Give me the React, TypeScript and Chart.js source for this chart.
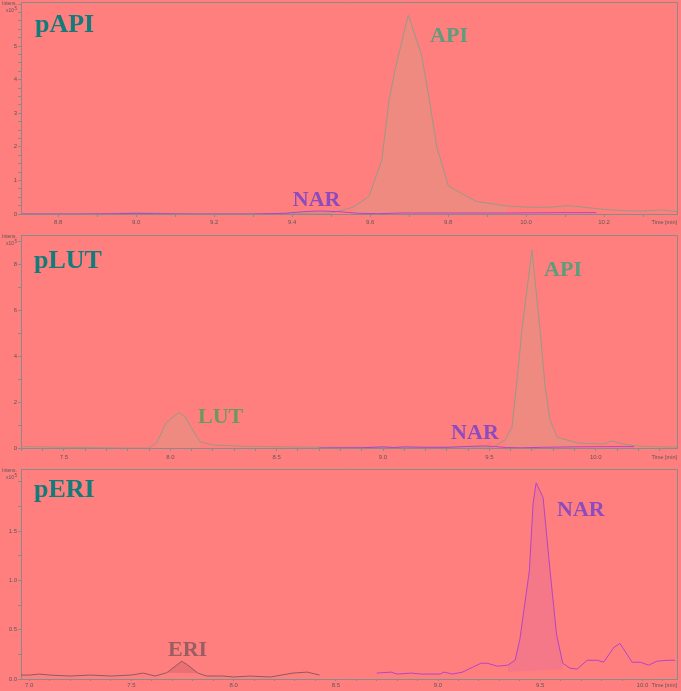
import React, { useEffect, useRef } from "react";
import { Chart, registerables } from "chart.js";

Chart.register(...registerables);

const BG = "#FF7F7F";
const AXIS = "#8A8A8A";
const TICK = "#5E5656";

// ---------- Panel 1 : pAPI ----------
const p1ApiTime = [8.705, 8.8, 8.9, 9.0, 9.05, 9.1, 9.2, 9.3, 9.4, 9.497, 9.556, 9.597, 9.63, 9.649, 9.664, 9.698, 9.732, 9.752, 9.771, 9.801, 9.873, 9.951, 10.01, 10.06, 10.108, 10.15, 10.197, 10.25, 10.3, 10.352, 10.387];
const p1ApiInt = [0.01, 0.01, 0.01, 0.03, 0.03, 0.01, 0.01, 0.01, 0.02, 0.02, 0.2, 0.52, 1.6, 3.4, 4.29, 5.92, 4.73, 3.39, 2.0, 0.83, 0.37, 0.24, 0.2, 0.2, 0.25, 0.2, 0.14, 0.1, 0.09, 0.12, 0.07];
const p1NarTime = [8.705, 8.85, 8.95, 9.0, 9.05, 9.15, 9.3, 9.38, 9.43, 9.47, 9.52, 9.57, 9.62, 9.68, 9.8, 9.95, 10.1, 10.18];
const p1NarInt = [0.0, 0.0, 0.01, 0.02, 0.01, 0.0, 0.0, 0.02, 0.07, 0.09, 0.07, 0.02, 0.01, 0.03, 0.03, 0.03, 0.04, 0.04];
const p1ApiPeak = [9.556, 9.951];

// ---------- Panel 2 : pLUT ----------
const p2LutApiTime = [7.298, 7.4, 7.5, 7.6, 7.7, 7.8, 7.9, 7.937, 7.98, 8.04, 8.07, 8.1, 8.14, 8.2, 8.33, 8.45, 8.6, 8.8, 9.0, 9.2, 9.4, 9.517, 9.574, 9.606, 9.63, 9.653, 9.7, 9.743, 9.762, 9.785, 9.818, 9.912, 10.034, 10.077, 10.128, 10.194, 10.3, 10.382];
const p2LutApiInt = [0.06, 0.05, 0.03, 0.02, 0.01, 0.0, 0.0, 0.25, 1.1, 1.55, 1.35, 0.87, 0.27, 0.13, 0.08, 0.06, 0.04, 0.03, 0.03, 0.03, 0.04, 0.04, 0.35, 0.9, 2.96, 5.15, 8.65, 4.7, 2.66, 1.22, 0.48, 0.22, 0.17, 0.31, 0.17, 0.09, 0.05, 0.04];
const p2NarTime = [8.7, 8.8, 8.9, 9.0, 9.05, 9.1, 9.2, 9.3, 9.4, 9.48, 9.53, 9.58, 9.65, 9.75, 9.9, 10.05, 10.18];
const p2NarInt = [0.0, 0.01, 0.01, 0.05, 0.02, 0.05, 0.03, 0.03, 0.07, 0.09, 0.06, 0.02, 0.01, 0.03, 0.05, 0.06, 0.06];
const p2LutPeak = [7.937, 8.14];
const p2ApiPeak = [9.574, 9.912];

// ---------- Panel 3 : pERI ----------
const p3EriTime = [6.96, 7.0, 7.05, 7.1, 7.2, 7.3, 7.4, 7.5, 7.558, 7.616, 7.673, 7.746, 7.77, 7.827, 7.868, 7.95, 8.0, 8.08, 8.18, 8.29, 8.36, 8.42];
const p3EriInt = [0.04, 0.04, 0.05, 0.04, 0.03, 0.04, 0.03, 0.04, 0.06, 0.03, 0.064, 0.18, 0.15, 0.058, 0.03, 0.03, 0.02, 0.03, 0.02, 0.06, 0.07, 0.04];
const p3NarTime = [8.7, 8.77, 8.8, 8.87, 8.92, 9.01, 9.03, 9.07, 9.12, 9.21, 9.24, 9.29, 9.34, 9.377, 9.4, 9.447, 9.465, 9.48, 9.514, 9.548, 9.58, 9.61, 9.645, 9.68, 9.73, 9.78, 9.81, 9.86, 9.89, 9.95, 9.99, 10.03, 10.07, 10.12, 10.16];
const p3NarInt = [0.06, 0.07, 0.05, 0.06, 0.05, 0.05, 0.07, 0.05, 0.07, 0.16, 0.16, 0.13, 0.14, 0.19, 0.4, 1.1, 1.78, 1.99, 1.84, 1.1, 0.45, 0.16, 0.11, 0.1, 0.19, 0.19, 0.17, 0.32, 0.36, 0.17, 0.17, 0.14, 0.18, 0.19, 0.19];
const p3NarBaseTime = [9.32, 9.61];
const p3NarBaseInt = [0.07, 0.1];
const p3EriBaseTime = [7.673, 7.827];
const p3EriBaseInt = [0.064, 0.058];

type Pt = { x: number; y: number };
const zip = (t: number[], v: number[]): Pt[] => t.map((x, i) => ({ x, y: v[i] }));
const between = (p: Pt[], r: number[]) => p.filter((q) => q.x >= r[0] - 1e-9 && q.x <= r[1] + 1e-9);

const lineDs = (pts: Pt[], color: string, order: number) => ({
  data: pts, borderColor: color, borderWidth: 1, pointRadius: 0, tension: 0, fill: false, order,
});
const areaDs = (pts: Pt[], color: string, fill: any, order: number) => ({
  data: pts, borderColor: "rgba(0,0,0,0)", borderWidth: 0, backgroundColor: color, pointRadius: 0, tension: 0, fill, order,
});
const hiddenDs = (pts: Pt[]) => ({
  data: pts, borderColor: "rgba(0,0,0,0)", borderWidth: 0, pointRadius: 0, tension: 0, fill: false, order: 9,
});

const API_LINE = "#979A86";
const API_FILL = "#EE8A80";
const NAR_LINE = "#B444C8";
const NAR_FILL = "#F47888";
const ERI_LINE = "#8E5A5E";
const ERI_FILL = "#EA7076";

interface Label { text: string; x: number; y: number; color: string; size: number }
interface Spec {
  top: number; height: number; padTop: number; xHeight: number; tickLen: number; tickPad: number;
  xMin: number; xMax: number; xMinor: number; xMajor: number;
  yMin: number; yMax: number; yMinor: number; yMajor: number; yDec: number; yHideAbove: number;
  datasets: any[]; title: string; titleDx: number; titleDy: number; labels: Label[];
}

const p1Api = zip(p1ApiTime, p1ApiInt);
const p2Trace = zip(p2LutApiTime, p2LutApiInt);
const p3Eri = zip(p3EriTime, p3EriInt);
const p3Nar = zip(p3NarTime, p3NarInt);

const specs: Spec[] = [
  {
    top: 0, height: 228, padTop: 2, xHeight: 14, tickLen: 3, tickPad: 2,
    xMin: 8.705, xMax: 10.387, xMinor: 0.1, xMajor: 0.2,
    yMin: 0, yMax: 6.31, yMinor: 0.25, yMajor: 1, yDec: 0, yHideAbove: 5.5,
    datasets: [
      areaDs(between(p1Api, p1ApiPeak), API_FILL, "origin", 5),
      lineDs(p1Api, API_LINE, 2),
      lineDs(zip(p1NarTime, p1NarInt), NAR_LINE, 1),
    ],
    title: "pAPI", titleDx: 14, titleDy: 30,
    labels: [
      { text: "API", x: 9.754, y: 5.12, color: "#5E9C7E", size: 22 },
      { text: "NAR", x: 9.402, y: 0.24, color: "#8C4CC0", size: 22 },
    ],
  },
  {
    top: 228, height: 234, padTop: 7, xHeight: 14, tickLen: 3, tickPad: 3,
    xMin: 7.298, xMax: 10.382, xMinor: 0.1, xMajor: 0.5,
    yMin: 0, yMax: 9.3, yMinor: 1, yMajor: 2, yDec: 0, yHideAbove: 9,
    datasets: [
      areaDs(between(p2Trace, p2LutPeak), API_FILL, "origin", 5),
      areaDs(between(p2Trace, p2ApiPeak), API_FILL, "origin", 5),
      lineDs(p2Trace, API_LINE, 2),
      lineDs(zip(p2NarTime, p2NarInt), NAR_LINE, 1),
    ],
    title: "pLUT", titleDx: 13, titleDy: 33,
    labels: [
      { text: "API", x: 9.757, y: 7.51, color: "#5E9C7E", size: 22 },
      { text: "LUT", x: 8.13, y: 1.09, color: "#6C9A5E", size: 22 },
      { text: "NAR", x: 9.32, y: 0.39, color: "#8C4CC0", size: 22 },
    ],
  },
  {
    top: 462, height: 229, padTop: 7, xHeight: 12, tickLen: 2, tickPad: 1,
    xMin: 6.96, xMax: 10.169, xMinor: 0.1, xMajor: 0.5,
    yMin: 0, yMax: 2.13, yMinor: 0.25, yMajor: 0.5, yDec: 1, yHideAbove: 1.9,
    datasets: [
      hiddenDs(zip(p3NarBaseTime, p3NarBaseInt)),
      areaDs(between(p3Nar, [9.34, 9.61]), NAR_FILL, 0, 5),
      hiddenDs(zip(p3EriBaseTime, p3EriBaseInt)),
      areaDs(between(p3Eri, [7.673, 7.827]), ERI_FILL, 2, 5),
      lineDs(p3Eri, ERI_LINE, 2),
      lineDs(p3Nar, NAR_LINE, 1),
    ],
    title: "pERI", titleDx: 13, titleDy: 28,
    labels: [
      { text: "ERI", x: 7.679, y: 0.233, color: "#9A5E62", size: 22 },
      { text: "NAR", x: 9.582, y: 1.653, color: "#8C4CC0", size: 22 },
    ],
  },
];

const SMALL = '"Liberation Sans", Arial, sans-serif';
const SERIF = '"Liberation Serif", "Times New Roman", serif';

const isMajor = (v: number, major: number) => {
  const r = v / major;
  return Math.abs(r - Math.round(r)) < 1e-6;
};

function buildConfig(s: Spec): any {
  const annot = {
    id: "annot",
    afterDraw(chart: any) {
      const { ctx, chartArea: a, scales } = chart;
      const xs = scales.x;
      const ys = scales.y;
      ctx.save();
      ctx.strokeStyle = AXIS;
      ctx.lineWidth = 1;
      ctx.beginPath();
      ctx.moveTo(a.left, a.top + 0.5);
      ctx.lineTo(a.right + 0.5, a.top + 0.5);
      ctx.lineTo(a.right + 0.5, a.bottom);
      ctx.stroke();
      ctx.font = `bold 26px ${SERIF}`;
      ctx.fillStyle = "#127C7B";
      ctx.textAlign = "left";
      ctx.textBaseline = "alphabetic";
      ctx.fillText(s.title, a.left + s.titleDx, a.top + s.titleDy);
      for (const l of s.labels) {
        ctx.font = `bold ${l.size}px ${SERIF}`;
        ctx.fillStyle = l.color;
        ctx.fillText(l.text, xs.getPixelForValue(l.x), ys.getPixelForValue(l.y));
      }
      ctx.fillStyle = TICK;
      ctx.textBaseline = "middle";
      ctx.font = `5px ${SMALL}`;
      ctx.fillText("Intens.", 2, a.top + 2);
      ctx.fillText("x10", 6, a.top + 9);
      const w = ctx.measureText("x10").width;
      ctx.font = `4.5px ${SMALL}`;
      ctx.fillText("5", 6 + w + 0.5, a.top + 7);
      ctx.font = `5.5px ${SMALL}`;
      ctx.textAlign = "right";
      ctx.fillText("Time [min]", a.right, a.bottom + s.tickLen + s.tickPad + 3.5);
      ctx.restore();
    },
  };
  const zeroPad = (sc: any) => {
    sc.paddingLeft = 0; sc.paddingRight = 0; sc.paddingTop = 0; sc.paddingBottom = 0;
  };
  return {
    type: "line",
    data: { datasets: s.datasets },
    options: {
      animation: false,
      responsive: false,
      maintainAspectRatio: false,
      devicePixelRatio: 1,
      events: [],
      layout: { padding: { top: s.padTop, right: 4, left: 0, bottom: 0 } },
      plugins: { legend: { display: false }, tooltip: { enabled: false } },
      scales: {
        x: {
          type: "linear",
          min: s.xMin,
          max: s.xMax,
          border: { display: true, color: AXIS, width: 1 },
          grid: { display: true, drawOnChartArea: false, drawTicks: true, tickLength: s.tickLen, color: AXIS, tickColor: AXIS },
          ticks: {
            stepSize: s.xMinor, autoSkip: false, includeBounds: false, maxRotation: 0, minRotation: 0,
            padding: s.tickPad, color: TICK, font: { size: 6, family: SMALL },
            callback: (v: any) => (isMajor(Number(v), s.xMajor) ? Number(v).toFixed(1) : ""),
          },
          afterFit: (sc: any) => { sc.height = s.xHeight; zeroPad(sc); },
        },
        y: {
          type: "linear",
          min: s.yMin,
          max: s.yMax,
          border: { display: true, color: AXIS, width: 1 },
          grid: { display: true, drawOnChartArea: false, drawTicks: true, tickLength: 3, color: AXIS, tickColor: AXIS },
          ticks: {
            stepSize: s.yMinor, autoSkip: false, includeBounds: false, padding: 1, color: TICK,
            font: { size: 6, family: SMALL },
            callback: (v: any) => {
              const n = Number(v);
              if (n > s.yHideAbove) return "";
              return isMajor(n, s.yMajor) ? n.toFixed(s.yDec) : "";
            },
          },
          afterFit: (sc: any) => { sc.width = 21; zeroPad(sc); },
        },
      },
    },
    plugins: [annot],
  };
}

function Panel({ spec }: { spec: Spec }) {
  const ref = useRef<HTMLCanvasElement | null>(null);
  useEffect(() => {
    if (!ref.current) return;
    const chart = new Chart(ref.current, buildConfig(spec));
    return () => chart.destroy();
  }, [spec]);
  return (
    <canvas
      ref={ref}
      width={681}
      height={spec.height}
      style={{ position: "absolute", left: 0, top: spec.top, width: 681, height: spec.height, display: "block" }}
    />
  );
}

export default function App() {
  return (
    <div style={{ position: "absolute", left: 0, top: 0, width: 681, height: 691, background: BG, overflow: "hidden" }}>
      {specs.map((s, i) => (
        <Panel key={i} spec={s} />
      ))}
    </div>
  );
}
